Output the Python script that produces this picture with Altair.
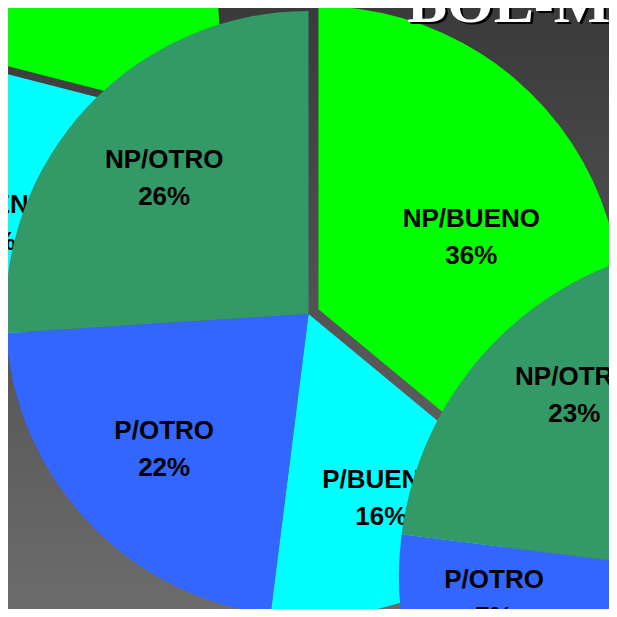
import math
import altair as alt
import pandas as pd

# ---- data ----
categories = ["NP/BUENO", "P/BUENO", "P/OTRO", "NP/OTRO"]
colors = ["#00FF00", "#00FFFF", "#3366FF", "#339966"]
main_values = [36, 16, 22, 26]          # central pie
upper_left_values = [29, 27, 20, 24]    # pie cut off at upper left (mostly hidden)
lower_right_values = [42, 28, 7, 23]    # pie cut off at lower right (mostly hidden)
title_text = "BOL-M"

# ---- layout / style ----
W = H = 601
FONT = "Liberation Sans"
LINE_H = 37
color_scale = alt.Scale(domain=categories, range=colors)


def pie_df(values):
    return pd.DataFrame({
        "cat": categories,
        "idx": list(range(len(categories))),
        "value": values,
        "label": [f"{c}\n{v}%" for c, v in zip(categories, values)],
    })


def pie_layers(values, cx, cy, r, label_r, first_label_r, explode):
    df = pie_df(values)
    half = values[0] / sum(values) * math.pi  # bisector of first (exploded) slice
    ox, oy = explode * math.sin(half), -explode * math.cos(half)
    theta = alt.Theta("value:Q", stack=True, scale=alt.Scale(domain=[0, 100]))
    order = alt.Order("idx:Q")
    first = alt.datum.idx == 0
    arcs = alt.Chart(df).mark_arc(radius=r, clip=True).encode(
        theta=theta, order=order, detail="cat:N",
        color=alt.Color("cat:N", scale=color_scale, legend=None),
        opacity=alt.condition(first, alt.value(0), alt.value(1)),
        x=alt.value(cx), y=alt.value(cy),
    )
    exploded = alt.Chart(df).mark_arc(radius=r, clip=True).encode(
        theta=theta, order=order, detail="cat:N",
        color=alt.Color("cat:N", scale=color_scale, legend=None),
        opacity=alt.condition(first, alt.value(1), alt.value(0)),
        x=alt.value(cx + ox), y=alt.value(cy + oy),
    )
    text_style = dict(font=FONT, fontSize=26, fontWeight="bold", lineBreak="\n",
                      lineHeight=LINE_H, align="center", baseline="middle",
                      dy=-LINE_H / 2, clip=True)
    labels = alt.Chart(df).mark_text(radius=label_r, **text_style).encode(
        theta=theta, order=order, detail="cat:N",
        text="label:N", color=alt.value("black"),
        opacity=alt.condition(first, alt.value(0), alt.value(1)),
        x=alt.value(cx), y=alt.value(cy),
    )
    first_label = alt.Chart(df).mark_text(radius=first_label_r, **text_style).encode(
        theta=theta, order=order, detail="cat:N",
        text="label:N", color=alt.value("black"),
        opacity=alt.condition(first, alt.value(1), alt.value(0)),
        x=alt.value(cx), y=alt.value(cy),
    )
    return [arcs, exploded, labels, first_label]


gradient = alt.LinearGradient(
    gradient="linear",
    stops=[alt.GradientStop(color="#3a3a3a", offset=0),
           alt.GradientStop(color="#6c6c6c", offset=1)],
    x1=0, x2=0, y1=0, y2=1,
)
bg = alt.Chart(pd.DataFrame({"b": [0]})).mark_rect(fill=gradient).encode(
    x=alt.value(0), x2=alt.value(W), y=alt.value(0), y2=alt.value(H))

layers = [bg]
layers += pie_layers(upper_left_values, -108, 38.6, 312, 198, 198, 10)
layers += pie_layers(main_values, 300.5, 306, 303, 198, 180, 11)
layers += pie_layers(lower_right_values, 725, 568, 334, 240, 240, 10)

tdf = pd.DataFrame({"t": [title_text]})
title_style = dict(font="Liberation Serif", fontSize=60, fontWeight="bold",
                   align="left", baseline="alphabetic", clip=True)
title_shadow = alt.Chart(tdf).mark_text(color="black", **title_style).encode(
    text="t:N", x=alt.value(401.5), y=alt.value(16))
title = alt.Chart(tdf).mark_text(color="white", **title_style).encode(
    text="t:N", x=alt.value(399), y=alt.value(13.5))
layers += [title_shadow, title]

chart = alt.layer(*layers).properties(
    width=W, height=H, padding=0,
    autosize=alt.AutoSizeParams(type="none"),
    background="#3a3a3a",
).configure_view(strokeWidth=0)

chart.save("out.html", embed_options={"renderer": "svg", "actions": False})
